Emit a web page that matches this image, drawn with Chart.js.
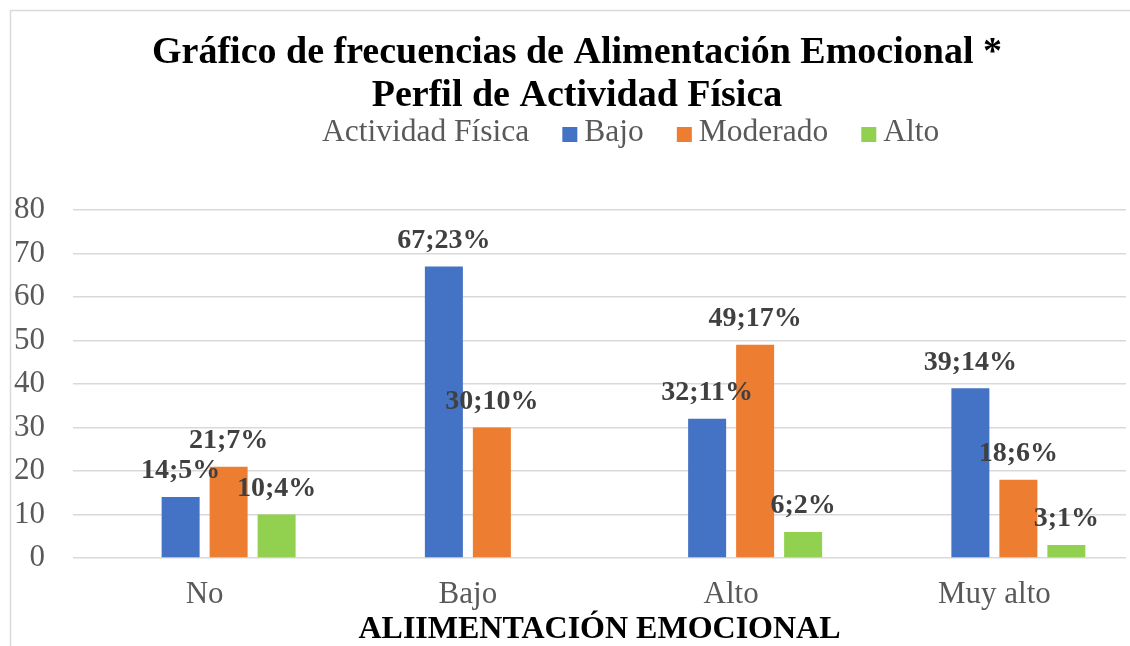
<!DOCTYPE html>
<html>
<head>
<meta charset="utf-8">
<script src="https://cdn.jsdelivr.net/npm/chart.js@4.4.1/dist/chart.umd.min.js"></script>
<style>
  html, body { margin: 0; padding: 0; background: #ffffff; }
  #wrap { width: 1130px; height: 646px; position: relative; }
</style>
</head>
<body>
<div id="wrap"><canvas id="c" width="1130" height="646"></canvas></div>
<script>
// ---- data ----
const categories = ['No', 'Bajo', 'Alto', 'Muy alto'];
const seriesNames = ['Actividad Física', 'Bajo', 'Moderado', 'Alto'];
const headerSeries = [null, null, null, null];
const bajoValues = [14, 67, 32, 39];
const bajoPct = [5, 23, 11, 14];
const moderadoValues = [21, 30, 49, 18];
const moderadoPct = [7, 10, 17, 6];
const altoValues = [10, null, 6, 3];
const altoPct = [4, null, 2, 1];
const yMin = 0, yMax = 80, yStep = 10;
const titleLines = ['Gráfico de frecuencias de Alimentación Emocional *', 'Perfil de Actividad Física'];
const xAxisTitle = 'ALIIMENTACIÓN EMOCIONAL';

const colors = ['rgba(0,0,0,0)', '#4472C4', '#ED7D31', '#92D050'];
const pctArrays = [headerSeries, bajoPct, moderadoPct, altoPct];
const seriesData = [headerSeries, bajoValues, moderadoValues, altoValues];
const SERIF = '"Liberation Serif", "Times New Roman", serif';

const framePlugin = {
  id: 'frame',
  beforeDraw(chart) {
    const ctx = chart.ctx;
    ctx.save();
    ctx.fillStyle = '#ffffff';
    ctx.fillRect(0, 0, chart.width, chart.height);
    ctx.strokeStyle = '#d9d9d9';
    ctx.lineWidth = 1.5;
    ctx.strokeRect(10.5, 10.5, chart.width + 100, chart.height + 100);
    ctx.restore();
  }
};

const titlePlugin = {
  id: 'customTitle',
  afterDraw(chart) {
    const ctx = chart.ctx;
    ctx.save();
    ctx.font = 'bold 38px ' + SERIF;
    ctx.fillStyle = '#000000';
    ctx.textAlign = 'center';
    ctx.textBaseline = 'middle';
    titleLines.forEach((line, i) => ctx.fillText(line, 577, 53 + i * 43));
    ctx.restore();
  }
};

const legendPlugin = {
  id: 'customLegend',
  afterDraw(chart) {
    const ctx = chart.ctx;
    ctx.save();
    ctx.font = '31.5px ' + SERIF;
    ctx.textBaseline = 'middle';
    ctx.textAlign = 'left';
    const y = 132.5;
    let x = 322;
    chart.data.datasets.forEach((ds, i) => {
      if (i > 0) {
        ctx.fillStyle = colors[i];
        ctx.fillRect(x, 127, 15, 15);
        x += 15 + 7;
      }
      ctx.fillStyle = '#595959';
      ctx.fillText(ds.label, x, y);
      x += ctx.measureText(ds.label).width + 33;
    });
    ctx.restore();
  }
};

const labelPlugin = {
  id: 'barLabels',
  afterDatasetsDraw(chart) {
    const ctx = chart.ctx;
    ctx.save();
    ctx.font = 'bold 28px ' + SERIF;
    ctx.fillStyle = '#404040';
    ctx.textAlign = 'center';
    ctx.textBaseline = 'middle';
    chart.data.datasets.forEach((ds, i) => {
      if (i === 0) return;
      const meta = chart.getDatasetMeta(i);
      meta.data.forEach((bar, j) => {
        const v = ds.data[j];
        if (v === null || v === undefined) return;
        ctx.fillText(v + ';' + pctArrays[i][j] + '%', bar.x, bar.y - 26);
      });
    });
    ctx.restore();
  }
};

new Chart(document.getElementById('c'), {
  type: 'bar',
  data: {
    labels: categories,
    datasets: seriesNames.map((name, i) => ({
      label: name,
      data: seriesData[i],
      backgroundColor: colors[i],
      borderWidth: 0,
      categoryPercentage: 0.7293,
      barPercentage: 0.7917
    }))
  },
  options: {
    responsive: false,
    animation: false,
    devicePixelRatio: 1,
    layout: { padding: { left: 0, right: 4, top: 210, bottom: 0 } },
    plugins: {
      legend: { display: false },
      tooltip: { enabled: false },
      title: { display: false }
    },
    scales: {
      x: {
        grid: { display: false, drawTicks: false },
        border: { display: false },
        ticks: { color: '#595959', font: { family: SERIF, size: 31 }, padding: 18 },
        title: {
          display: true,
          text: xAxisTitle,
          color: '#000000',
          font: { family: SERIF, size: 32, weight: 'bold', lineHeight: 1.0 },
          padding: { top: 0, bottom: 0 }
        },
        afterFit(s) { s.height = 88; }
      },
      y: {
        min: yMin,
        max: yMax,
        grid: { color: '#d9d9d9', lineWidth: 1.5, drawTicks: false },
        border: { display: false },
        ticks: { stepSize: yStep, color: '#595959', font: { family: SERIF, size: 31 }, padding: 28 },
        afterFit(s) { s.width = 73; }
      }
    }
  },
  plugins: [framePlugin, titlePlugin, legendPlugin, labelPlugin]
});
</script>
</body>
</html>
